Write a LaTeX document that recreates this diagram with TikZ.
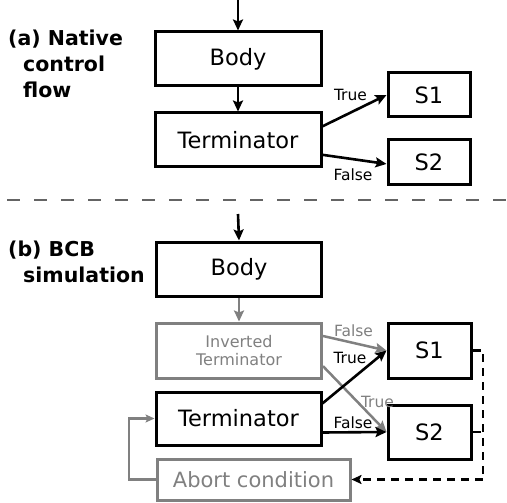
\documentclass[tikz,border=0pt]{standalone}
\usepackage{fontspec}
\setmainfont{DejaVu Sans}
\usetikzlibrary{arrows.meta,calc}
\definecolor{lgray}{RGB}{128,128,128}
\definecolor{sepgray}{RGB}{100,100,100}
\begin{document}
\begin{tikzpicture}[x=1pt,y=-1pt,
  box/.style={draw=black,line width=3pt,inner sep=0pt,font=\fontsize{22.5}{27}\selectfont},
  gbox/.style={draw=lgray,line width=3pt,inner sep=0pt,text=lgray},
  arr/.style={line width=2.6pt,-{Stealth[length=11pt,width=10pt,inset=2pt]}},
  garr/.style={line width=2.5pt,draw=lgray,-{Stealth[length=11pt,width=10pt,inset=2pt]}},
  lbl/.style={font=\fontsize{15.5}{18}\selectfont,inner sep=0pt},
  head/.style={font=\bfseries\fontsize{20.5}{25}\selectfont,anchor=base west,inner sep=0pt},
  sep/.style={draw=sepgray,line width=2.8pt,dash pattern=on 13pt off 14pt,dash phase=20pt},
  dsh/.style={line width=2.6pt,dash pattern=on 8pt off 6pt}]
\useasboundingbox (0,0) rectangle (507,503);

% ---------- (a) ----------
\node[head] (ha1) at (8,45.7) {(a) Native};
\node[head] (ha2) at (23,71.7) {control};
\node[head] (ha3) at (23,97.7) {flow};

\node[box,minimum width=166pt,minimum height=54pt] (bodyA) at (238,59) {Body};
\node[box,minimum width=166pt,minimum height=54pt] (termA) at (238,140) {Terminator};
\node[box,minimum width=82pt,minimum height=44pt] (s1A) at (429,95) {S1};
\node[box,minimum width=82pt,minimum height=45pt] (s2A) at (429,162.5) {S2};
\coordinate (inA) at (238,0);

\draw[arr] (inA) -- (bodyA.north);
\draw[arr] (bodyA.south) -- (termA.north);
\draw[arr] ($(termA.north east)!0.26!(termA.south east)$) -- (s1A.west);
\draw[arr] ($(termA.north east)!0.76!(termA.south east)$) -- ($(s2A.north west)!0.53!(s2A.south west)$);
\node[lbl] (tA) at (350.5,95) {True};
\node[lbl] (fA) at (353,174.5) {False};

% ---------- separator ----------
\coordinate (sepL) at (0,200);
\coordinate (sepR) at (507,200);
\draw[sep] (sepL) -- (sepR);

% ---------- (b) ----------
\node[head] (hb1) at (8,256.7) {(b) BCB};
\node[head] (hb2) at (23,282.3) {simulation};

\node[box,minimum width=165pt,minimum height=54pt] (bodyB) at (239,269) {Body};
\node[gbox,minimum width=165pt,minimum height=55pt,align=center,font=\fontsize{16}{18.6}\selectfont] (invT) at (239,350.5) {Inverted\\Terminator};
\node[box,minimum width=165pt,minimum height=53pt] (termB) at (238.5,418.5) {Terminator};
\node[box,minimum width=83pt,minimum height=55pt] (s1B) at (429.5,350.5) {S1};
\node[box,minimum width=83pt,minimum height=54pt] (s2B) at (429.5,432) {S2};
\node[gbox,minimum width=193pt,minimum height=41pt,font=\fontsize{21}{25}\selectfont] (abort) at (253.5,479.5) {Abort condition};
\coordinate (inB) at (238,214);
\coordinate (rail) at (483,0);
\coordinate (loop) at (129,0);

\draw[arr] (inB) -- (bodyB.north);
\draw[garr] (bodyB.south) -- (invT.north);

\draw[garr] ($(invT.north east)!0.25!(invT.south east)$) -- ($(s1B.north west)!0.5!(s1B.south west)$);
\draw[garr] ($(invT.north east)!0.77!(invT.south east)$) -- (s2B.west);
\draw[arr] ($(termB.north east)!0.23!(termB.south east)$) -- (s1B.west);
\draw[arr] ($(termB.north east)!0.75!(termB.south east)$) -- (s2B.west);

\node[lbl,text=lgray] (fB1) at (353.5,331) {False};
\node[lbl] (tB1) at (350,358) {True};
\node[lbl,text=lgray] (tB2) at (377.5,402) {True};
\node[lbl] (fB2) at (353,423) {False};

\draw[dsh,-{Stealth[length=10pt,width=9pt,inset=2pt]}] (s1B.east) -- (s1B.east -| rail) |- (abort.east);
\draw[dsh] (s2B.east) -- (s2B.east -| rail);

\draw[garr,-{Stealth[length=9pt,width=8pt,inset=2pt]}] (abort.west) -- (abort.west -| loop) |- (termB.west);
\end{tikzpicture}
\end{document}
